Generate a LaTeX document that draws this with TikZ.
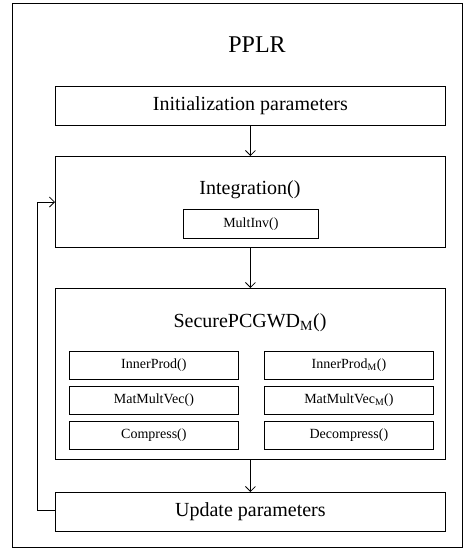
\documentclass[tikz,border=0pt]{standalone}
\usepackage{fontspec}
\setmainfont{Liberation Serif}
\usetikzlibrary{arrows.meta}
\begin{document}
\begin{tikzpicture}[x=1pt,y=-1pt,
  box/.style={draw,line width=0.8pt,anchor=north west,inner sep=0pt},
  lbl/.style={inner sep=0pt},
  conn/.style={draw,line width=0.8pt,-{Straight Barb[length=5pt,width=10pt]}}]
\useasboundingbox (0,0) rectangle (464,552);
\node[box,minimum width=450pt,minimum height=544pt] (frame) at (12,3) {};
\node[lbl,font=\fontsize{24}{28}\selectfont] (title) at (257,45) {PPLR};
\node[box,minimum width=390pt,minimum height=39pt,font=\fontsize{20}{24}\selectfont] (init) at (55,86) {Initialization parameters};
\node[box,minimum width=390pt,minimum height=91pt] (integ) at (55,156) {};
\node[lbl,font=\fontsize{20}{24}\selectfont] (integt) at (250,190) {Integration()};
\node[box,minimum width=135pt,minimum height=29pt,font=\fontsize{14}{16}\selectfont] (mult) at (183,209) {MultInv()};
\node[box,minimum width=390pt,minimum height=171pt] (sec) at (55,288) {};
\node[lbl,font=\fontsize{20}{24}\selectfont] (sect) at (250,323) {SecurePCGWD\textsubscript{M}()};
\tikzset{sub/.style={box,minimum width=169pt,minimum height=28pt,font=\fontsize{14}{16}\selectfont}}
\node[sub] (ip) at (69,351) {InnerProd()};
\node[sub] (mv) at (69,386) {MatMultVec()};
\node[sub] (cp) at (69,421) {Compress()};
\node[sub] (ipm) at (264,351) {InnerProd\textsubscript{M}()};
\node[sub] (mvm) at (264,386) {MatMultVec\textsubscript{M}()};
\node[sub] (dc) at (264,421) {Decompress()};
\node[box,minimum width=390pt,minimum height=39pt,font=\fontsize{20}{24}\selectfont] (upd) at (55,492) {Update parameters};
\draw[conn] (init.south) -- (integ.north);
\draw[conn] (integ.south) -- (sec.north);
\draw[conn] (sec.south) -- (upd.north);
\coordinate (lb) at (37,510);
\coordinate (lt) at (37,202);
\draw[conn] (upd.west |- lb) -- (lb) -- (lt) -- (integ.west |- lt);
\end{tikzpicture}
\end{document}
